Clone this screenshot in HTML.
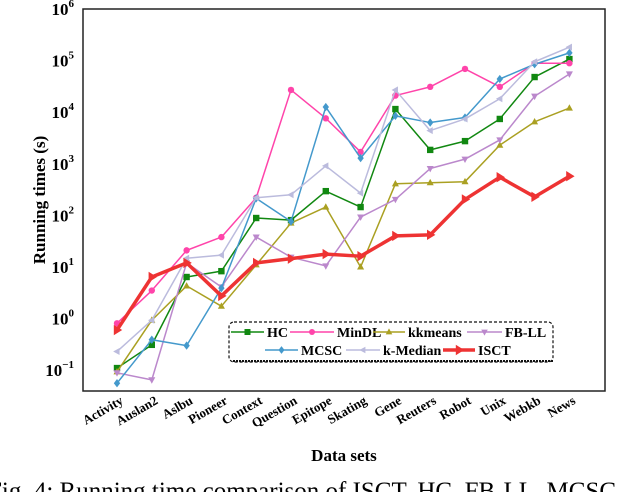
<!DOCTYPE html>
<html><head><meta charset="utf-8"><style>
body{margin:0;background:#fff;}
svg{display:block;font-family:"Liberation Serif",serif;}
</style></head><body>
<svg id="chart" width="640" height="492" viewBox="0 0 640 492" xmlns="http://www.w3.org/2000/svg">
<g id="plot"></g>
<text x="344" y="461" text-anchor="middle" font-weight="bold" font-size="17">Data sets</text>
<text transform="translate(45,200) rotate(-90)" text-anchor="middle" font-weight="bold" font-size="17">Running times (s)</text>
<text x="-12" y="499" font-size="25">Fig. 4: Running time comparison of ISCT, HC, FB-LL, MCSC</text>
</svg>
<script>
const categories=["Activity","Auslan2","Aslbu","Pioneer","Context","Question","Epitope","Skating","Gene","Reuters","Robot","Unix","Webkb","News"];
const yTicks=[-1,0,1,2,3,4,5,6];
const hc=[0.11,0.31,6.4,8.3,89,81,295,145,11500,1860,2750,7400,48000,107000];
const mindl=[0.81,3.5,21,38,220,27000,7600,1700,21000,31000,69000,31000,89000,89000];
const kkmeans=[0.093,0.93,4.3,1.74,11,71,145,10,410,430,450,2300,6500,12000];
const fbll=[0.089,0.065,12,4.1,38,15.5,10.5,93,204,810,1230,2900,20400,55000];
const mcsc=[0.056,0.39,0.3,3.9,214,76,12600,1290,8500,6300,7900,44000,85000,141000];
const kmedian=[0.23,0.93,14.8,17,220,251,910,270,27000,4400,7400,18200,95000,182000];
const isct=[0.6,6.4,12,2.75,12,14.5,17.8,16.2,40,42,204,550,229,575];
const seriesNames=["HC","MinDL","kkmeans","FB-LL","MCSC","k-Median","ISCT"];
const seriesData=[hc,mindl,kkmeans,fbll,mcsc,kmedian,isct];
const colors=["#118811","#ff44aa","#aaa022","#bb88cc","#4499cc","#bbbbdd","#ee3333"];
const markers=["square","circle","tri-up","tri-down","diamond","tri-left","tri-right"];
const NS="http://www.w3.org/2000/svg";
const L=83,R=605,T=9,B=391,X0=117,DX=34.8,DEC=51.6;
const xPos=i=>X0+i*DX;
const yPos=v=>T+(6-Math.log10(v))*DEC;
const g=document.getElementById('plot');
function mk(tag,attrs,parent){const e=document.createElementNS(NS,tag);for(const k in attrs)e.setAttribute(k,attrs[k]);(parent||g).appendChild(e);return e;}
function marker(type,x,y,c,s,parent){
  let e;
  if(type==="square")e=mk('rect',{x:x-s,y:y-s,width:2*s,height:2*s,fill:c},parent);
  else if(type==="circle")e=mk('circle',{cx:x,cy:y,r:s,fill:c},parent);
  else{
    let p;
    if(type==="tri-up")p=[[x,y-s*1.2],[x-s*1.1,y+s*0.8],[x+s*1.1,y+s*0.8]];
    if(type==="tri-down")p=[[x,y+s*1.2],[x-s*1.1,y-s*0.8],[x+s*1.1,y-s*0.8]];
    if(type==="tri-left")p=[[x-s*1.2,y],[x+s*0.8,y-s*1.1],[x+s*0.8,y+s*1.1]];
    if(type==="tri-right")p=[[x+s*1.3,y],[x-s*0.8,y-s*1.3],[x-s*0.8,y+s*1.3]];
    if(type==="diamond")p=[[x,y-s*1.3],[x+s,y],[x,y+s*1.3],[x-s,y]];
    e=mk('polygon',{points:p.map(q=>q.join(',')).join(' '),fill:c},parent);
  }
  return e;
}
yTicks.forEach(t=>{
  const y=T+(6-t)*DEC;
  const tx=mk('text',{x:74,y:y+6,'text-anchor':'end','font-weight':'bold','font-size':'17'});
  
  
  tx.textContent='10';
  const sup=document.createElementNS(NS,'tspan');sup.setAttribute('dy','-8');sup.setAttribute('font-size','11');sup.textContent=(t<0?'\u2212'+(-t):String(t));tx.appendChild(sup);
});
categories.forEach((c,i)=>{
  const x=xPos(i)+7,y=403;
  const tx=mk('text',{x:x,y:y,'text-anchor':'end','font-weight':'bold','font-size':'13',transform:`rotate(-30 ${x} ${y})`});
  
  
  tx.textContent=c;
});
seriesData.forEach((d,si)=>{
  const grp=mk('g',{});
  
  
  const w=si===6?3.5:1.5;
  const pl=mk('polyline',{points:d.map((v,i)=>xPos(i)+','+yPos(v)).join(' '),fill:'none',stroke:colors[si],'stroke-width':w,'stroke-linejoin':'round'},grp);
  
  
  d.forEach((v,i)=>{
    const m=marker(markers[si],xPos(i),yPos(v),colors[si],si===6?4:3.2,grp);
    
    
  });
});
const fr=mk('rect',{x:L,y:T,width:R-L,height:B-T,fill:'none',stroke:'#222','stroke-width':1.5});


const lg=mk('g',{});


mk('rect',{x:229,y:322,width:324,height:40,rx:5,fill:'#fff',stroke:'#111','stroke-width':1.2,'stroke-dasharray':'3,2'},lg);
mk('line',{x1:233,y1:361,x2:553,y2:361,stroke:'#111','stroke-width':2,'stroke-dasharray':'2,1'},lg);
const legItems=[[0,231,332,267],[1,290,332,337],[2,373,332,408],[3,467,332,505],[4,265,350,301],[5,346,350,383],[6,443,350,478]];
legItems.forEach(([si,x1,y,tx])=>{
  const e=mk('g',{},lg);
  
  
  mk('line',{x1:x1,y1:y,x2:tx-3,y2:y,stroke:colors[si],'stroke-width':si===6?3.5:1.5},e);
  marker(markers[si],(x1+tx-3)/2,y,colors[si],si===6?4:3,e);
  const t=mk('text',{x:tx,y:y+5,'font-weight':'bold','font-size':'14'},e);
  t.textContent=seriesNames[si];
});
</script>
</body></html>
